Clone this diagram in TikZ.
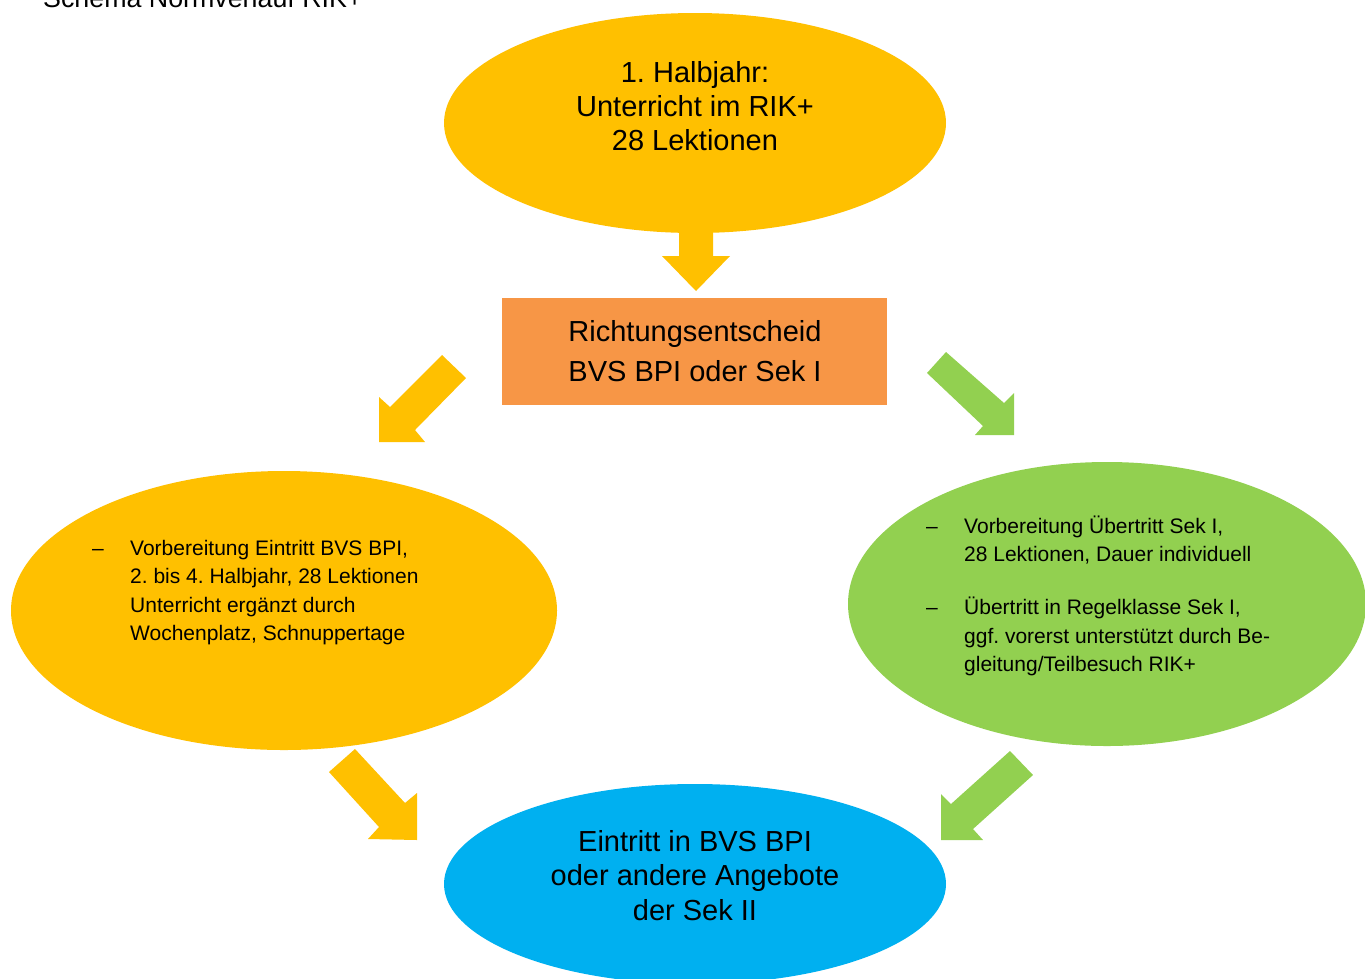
\documentclass[tikz,border=0pt]{standalone}
\usepackage{fontspec}
\setmainfont{Liberation Sans}
\usetikzlibrary{shapes.geometric}
\frenchspacing
\definecolor{cYellow}{HTML}{FFC000}
\definecolor{cOrange}{HTML}{F79646}
\definecolor{cGreen}{HTML}{92D050}
\definecolor{cBlue}{HTML}{00B0F0}
\tikzset{
  blob/.style={ellipse, inner sep=0pt, draw=none},
  blockarrow/.style={draw=none},
  bigtext/.style={inner sep=0pt, anchor=base, font=\fontsize{29}{34.5}\selectfont},
  smalltext/.style={inner sep=0pt, anchor=base west, font=\fontsize{21}{28.5}\selectfont},
}
\begin{document}
\begin{tikzpicture}[x=1pt,y=-1pt]
\useasboundingbox (0,0) rectangle (1365,978);
\clip (0,0) rectangle (1365,978);
\fill[white] (0,0) rectangle (1365,978);

% title
\node[inner sep=0pt, anchor=base west, font=\fontsize{26.8}{30}\selectfont] (title) at (43,7) {Schema Normverlauf RIK+};

% block arrows (drawn first, behind shapes)
\fill[cYellow, blockarrow] (679,200) -- (713,200) -- (713,256) -- (730,256) -- (696,291) -- (662,256) -- (679,256) -- cycle;
\fill[cYellow, blockarrow] (442,355) -- (466,378) -- (415,430) -- (425,442) -- (379,442) -- (379,397) -- (390,407) -- cycle;
\fill[cGreen, blockarrow] (946,352) -- (1004,403) -- (1014,393) -- (1014,435) -- (975,435) -- (983,426) -- (927,373) -- cycle;
\fill[cYellow, blockarrow] (355,749) -- (405,803) -- (417,793) -- (417,840) -- (368,839) -- (379,827) -- (329,772) -- cycle;
\fill[cGreen, blockarrow] (1010,751) -- (951,804) -- (941,794) -- (941,840) -- (983,840) -- (973,829) -- (1033,775) -- cycle;

% shapes
\node[blob, fill=cYellow, minimum width=502pt, minimum height=220pt] (top) at (695,123) {};
\node[draw=none, fill=cOrange, minimum width=385pt, minimum height=107pt, inner sep=0pt] (dec) at (694.5,351.5) {};
\node[blob, fill=cYellow, minimum width=546pt, minimum height=279pt] (left) at (284,610.5) {};
\node[blob, fill=cGreen, minimum width=518pt, minimum height=284pt] (right) at (1107,604) {};
\node[blob, fill=cBlue, minimum width=502pt, minimum height=200pt] (bottom) at (695,884) {};

% texts
\node[bigtext, font=\fontsize{29}{34}\selectfont] (toptext) at (695,82) {\begin{tabular}[t]{@{}c@{}}1. Halbjahr:\\Unterricht im RIK+\\28 Lektionen\end{tabular}};
\node[bigtext, font=\fontsize{29}{40}\selectfont] (dectext) at (695,341) {\begin{tabular}[t]{@{}c@{}}Richtungsentscheid\\BVS BPI oder Sek I\end{tabular}};
\node[bigtext] (bottomtext) at (695,851) {\begin{tabular}[t]{@{}c@{}}Eintritt in BVS BPI\\oder andere Angebote\\der Sek II\end{tabular}};
\node[smalltext] (lefttext) at (92,555) {\begin{tabular}[t]{@{}l@{}}\makebox[38pt][l]{–}Vorbereitung Eintritt BVS BPI,\\\hspace*{38pt}2. bis 4. Halbjahr, 28 Lektionen\\\hspace*{38pt}Unterricht ergänzt durch\\\hspace*{38pt}Wochenplatz, Schnuppertage\end{tabular}};
\node[smalltext] (righttext) at (926,533) {\begin{tabular}[t]{@{}l@{}}\makebox[38pt][l]{–}Vorbereitung Übertritt Sek I,\\\hspace*{38pt}28 Lektionen, Dauer individuell\\[24.5pt]\makebox[38pt][l]{–}Übertritt in Regelklasse Sek I,\\\hspace*{38pt}ggf. vorerst unterstützt durch Be-\\\hspace*{38pt}gleitung/Teilbesuch RIK+\end{tabular}};
\end{tikzpicture}
\end{document}
